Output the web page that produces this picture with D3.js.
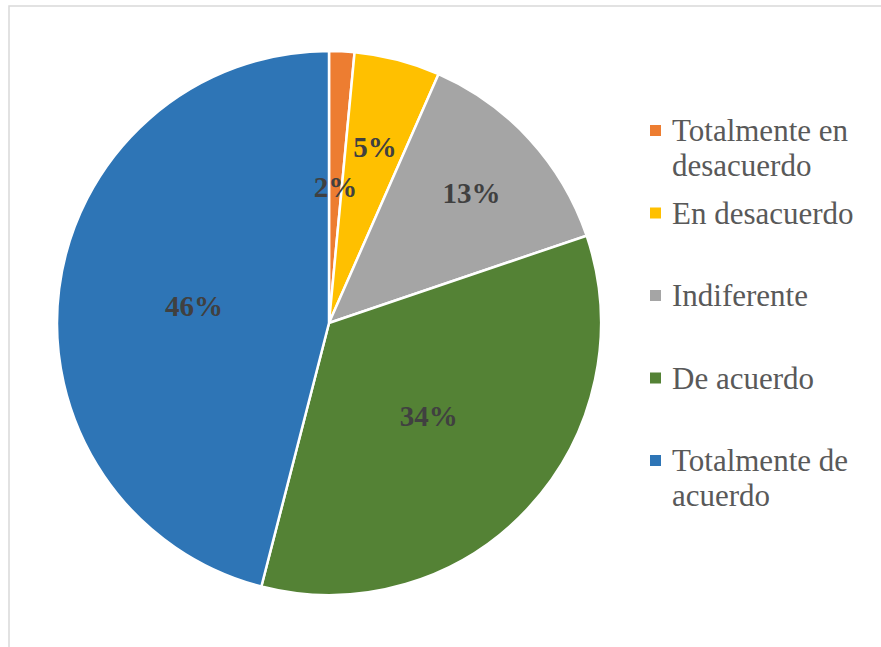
<!DOCTYPE html>
<html>
<head>
<meta charset="utf-8">
<script src="https://cdn.jsdelivr.net/npm/d3@7"></script>
<style>
	body { margin: 0; background: #fff; }
	svg { display: block; }
</style>
</head>
<body>
<svg width="881" height="647"></svg>
<script>
// Categories and their shares (percent)
const categories = ['Totalmente en desacuerdo', 'En desacuerdo', 'Indiferente', 'De acuerdo', 'Totalmente de acuerdo'];
const shares = [1.5, 5.1, 13.2, 34.2, 46.0];
const labels = ['2%', '5%', '13%', '34%', '46%'];
// Legend lines (wrapped like the original)
const legendLines = [['Totalmente en', 'desacuerdo'], ['En desacuerdo'], ['Indiferente'], ['De acuerdo'], ['Totalmente de', 'acuerdo']];

const colors = ['#ED7D31', '#FFC000', '#A5A5A5', '#548235', '#2E75B6'];
const labelPos = [0.5, 0.67, 0.71, 0.5, 0.5]; // radial position of each data label (fraction of radius)

let svg = d3.select('svg');

// Chart frame (runs off the right and bottom)
svg.append('rect')
	.attr('x', 9).attr('y', 6)
	.attr('width', 900).attr('height', 700)
	.attr('fill', '#fff')
	.attr('stroke', '#d9d9d9')
	.attr('stroke-width', 1.5);

let cx = 329, cy = 323, r = 272;

let pie = d3.pie().sort(null).value(d => d);
let arcs = pie(shares);

let arc = d3.arc().innerRadius(0).outerRadius(r);

let g = svg.append('g').attr('transform', 'translate(' + [cx, cy] + ')');

g.selectAll('path')
	.data(arcs)
	.enter()
	.append('path')
	.attr('d', arc)
	.attr('fill', (d, i) => colors[i])
	.attr('stroke', '#fff')
	.attr('stroke-width', 2.5)
	.attr('stroke-linejoin', 'round');

// Data labels
g.selectAll('text.lbl')
	.data(arcs)
	.enter()
	.append('text')
	.attr('class', 'lbl')
	.attr('transform', (d, i) => {
		let a = d3.arc().innerRadius(r * labelPos[i]).outerRadius(r * labelPos[i]);
		return 'translate(' + a.centroid(d) + ')';
	})
	.attr('text-anchor', 'middle')
	.attr('dy', '0.35em')
	.attr('font-family', '"Liberation Serif", "Times New Roman", serif')
	.attr('font-weight', 'bold')
	.attr('font-size', 29)
	.attr('fill', '#404040')
	.text((d, i) => labels[i]);

// Legend
let legendX = 650, legendTop = 141, legendStep = 82.5, lineH = 35;

let legend = svg.selectAll('g.legend')
	.data(categories)
	.enter()
	.append('g')
	.attr('class', 'legend')
	.attr('transform', (d, i) => 'translate(' + [legendX, legendTop + legendStep * i] + ')');

legend.append('rect')
	.attr('x', 0).attr('y', -16)
	.attr('width', 11).attr('height', 11)
	.attr('fill', (d, i) => colors[i]);

legend.append('text')
	.attr('x', 22)
	.attr('font-family', '"Liberation Serif", "Times New Roman", serif')
	.attr('font-size', 31)
	.attr('fill', '#595959')
	.each(function (d, i)
	{
		d3.select(this).selectAll('tspan')
			.data(legendLines[i])
			.enter()
			.append('tspan')
			.attr('x', 22)
			.attr('y', (t, j) => j * lineH)
			.text(t => t);
	});
</script>
</body>
</html>
